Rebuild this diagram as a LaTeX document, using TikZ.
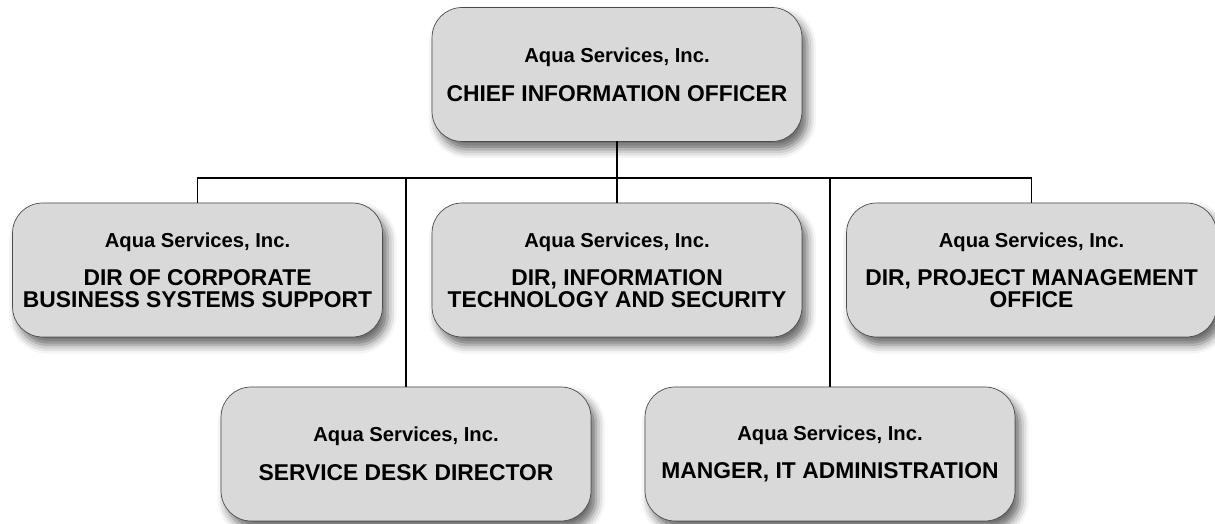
\documentclass[tikz,border=0pt]{standalone}
\usepackage{fontspec}
\setmainfont{Liberation Sans}
\usetikzlibrary{positioning,shadows.blur}
\newcommand{\Aqua}{{\fontsize{11.5}{13}\selectfont Aqua Services, Inc.}}

\begin{document}
\begin{tikzpicture}[
  x=0.02cm, y=0.02cm,
  post/.style={draw=black!70, fill=black!15, rounded corners=0.6cm, align=center, minimum width=7.4cm, minimum height=2.68cm, inner sep=2pt, outer sep=0pt, font=\bfseries\fontsize{13}{12}\selectfont, blur shadow={shadow xshift=3pt, shadow yshift=-4.5pt, shadow blur radius=5pt, shadow opacity=60}},
  link/.style={draw, line width=1pt}
]
\useasboundingbox (0,0) rectangle (1215,524);
\node[post] (cio) at (617,449.5) {\Aqua\\[10pt]CHIEF INFORMATION OFFICER};
\node[post] (corp) at (197.5,254) {\Aqua\\[10pt]DIR OF CORPORATE\\BUSINESS SYSTEMS SUPPORT};
\node[post] (itsec) at (617,254) {\Aqua\\[10pt]DIR, INFORMATION\\TECHNOLOGY AND SECURITY};
\node[post] (pmo) at (1031.5,254) {\Aqua\\[10pt]DIR, PROJECT MANAGEMENT\\OFFICE};
\node[post] (desk) at (406,70) {\Aqua\\[10pt]SERVICE DESK DIRECTOR};
\node[post] (admin) at (830,70) {\Aqua\\[10pt]MANGER, IT ADMINISTRATION};
\coordinate (bus) at (617,346);

\draw[link] (cio) -- (itsec);
\draw[link] (corp.north) |- (bus) -| (pmo.north);
\draw[link] (desk.north) -- (desk.north |- bus);
\draw[link] (admin.north) -- (admin.north |- bus);
\end{tikzpicture}
\end{document}
